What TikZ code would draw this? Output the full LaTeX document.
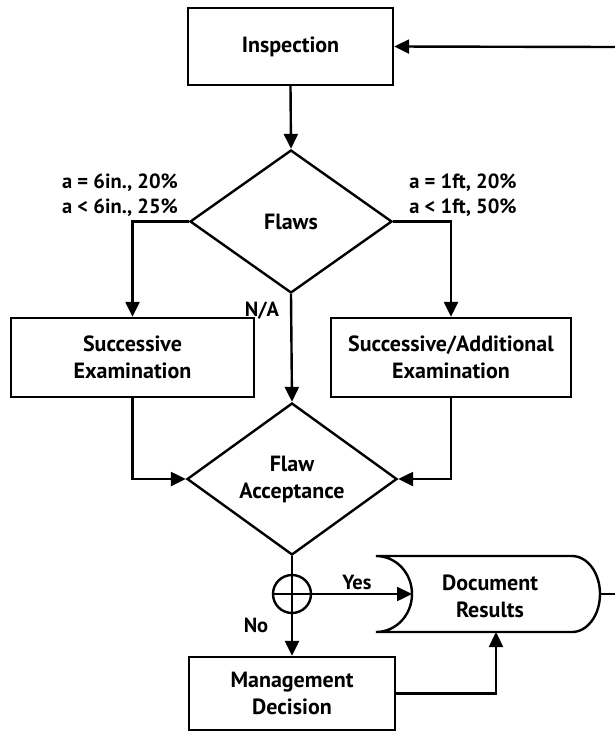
\documentclass[tikz,border=0pt]{standalone}
\usepackage{fontspec}
\setmainfont{PT Sans}
\usetikzlibrary{shapes.geometric,arrows.meta}
\begin{document}
\begin{tikzpicture}[x=1pt,y=-1pt,
  line width=2.4pt,
  every node/.style={font=\fontsize{22}{27}\selectfont\bfseries, align=center, inner sep=0pt},
  procbox/.style={draw, rectangle},
  decision/.style={draw, diamond},
  lbl/.style={font=\fontsize{20.5}{25}\selectfont\bfseries},
  arr/.style={-{Triangle[length=15pt,width=14pt]}}]
\useasboundingbox (0,0) rectangle (615,732);

\node[procbox, minimum width=205pt, minimum height=77pt] (insp) at (290.5,46.5) {Inspection};
\node[decision, minimum width=202pt, minimum height=143pt] (flaws) at (291,221.5) {Flaws};
\node[procbox, minimum width=243pt, minimum height=79pt] (left) at (132.5,357.5) {Successive\\Examination};
\node[procbox, minimum width=240pt, minimum height=79pt] (right) at (451,357.5) {Successive/Additional\\Examination};
\node[decision, minimum width=210pt, minimum height=142pt] (fa) at (292,479) {Flaw\\Acceptance};
\node[draw, circle, minimum size=38pt] (circ) at (292,594) {};
\node[procbox, minimum width=206pt, minimum height=73pt] (mg) at (292,693.5) {Management\\Decision};
\node[minimum width=224pt, minimum height=76pt] (doc) at (490,596) {Document\\Results};

% document shape
\draw (376,556) -- (572,556) .. controls (587.5,556) and (600,573) .. (600,594)
  .. controls (600,615) and (587.5,632) .. (572,632) -- (376,632)
  .. controls (396,632) and (412,615) .. (412,594)
  .. controls (412,573) and (396,556) .. (376,556) -- cycle;
\coordinate (docin) at (412,594);
\coordinate (docout) at (600,594);
\coordinate (docb) at (496,632);
\coordinate (loopout) at (615,594);
\coordinate (loopin) at (615,47);

% labels
\node[lbl] (l1) at (120,183) {a = 6in., 20\%};
\node[lbl] (l2) at (120,208) {a < 6in., 25\%};
\node[lbl] (r1) at (463,183) {a = 1ft, 20\%};
\node[lbl] (r2) at (463,208) {a < 1ft, 50\%};
\node[lbl] (na) at (262,311) {N/A};
\node[lbl] (yes) at (357,582) {Yes};
\node[lbl] (no) at (256,625) {No};

% connectors
\draw[arr] (loopin) -- (insp.east);
\draw[arr] (insp.south) -- (flaws.north);
\draw[arr] (flaws.west) -| (left.north);
\draw[arr] (flaws.east) -| (right.north);
\draw[arr] (flaws.south) -- (fa.north);
\draw[arr] (left.south) |- (fa.west);
\draw[arr] (right.south) |- (fa.east);
\draw[arr] (fa.south) -- (mg.north);
\draw[arr] (circ.west) -- (docin);
\draw (docout) -- (loopout);
\draw[arr] (mg.east) -| (docb);
\end{tikzpicture}
\end{document}
